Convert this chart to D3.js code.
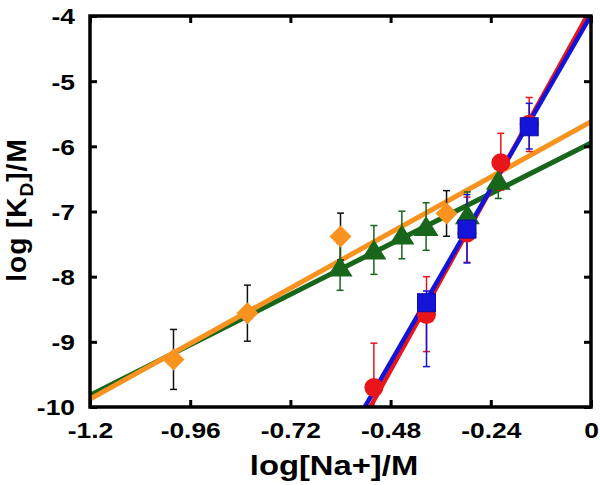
<!DOCTYPE html>
<html><head><meta charset="utf-8">
<script src="https://cdn.jsdelivr.net/npm/d3@7"></script>
<style>
body{margin:0;background:#fff}
svg text{font-family:"Liberation Sans",Arial,sans-serif;font-weight:bold;fill:#000}
</style>
</head><body>
<svg id="chart" width="600" height="485"></svg>
<script>
// ---- data ----
const xTicks = [-1.2, -0.96, -0.72, -0.48, -0.24, 0];
const xTickLabels = ["-1.2", "-0.96", "-0.72", "-0.48", "-0.24", "0"];
const yTicks = [-10, -9, -8, -7, -6, -5, -4];
const yTickLabels = ["-10", "-9", "-8", "-7", "-6", "-5", "-4"];

const orangeX = [-1.0, -0.823, -0.6, -0.346];
const orangeY = [-9.27, -8.56, -7.385, -7.03];
const orangeErrUp = [0.46, 0.43, 0.36, 0.35];
const orangeErrDown = [0.46, 0.43, 0.36, 0.35];

const greenX = [-0.601, -0.52, -0.453, -0.395, -0.296, -0.222];
const greenY = [-7.85, -7.59, -7.36, -7.23, -7.05, -6.52];
const greenErrUp = [0.36, 0.375, 0.365, 0.365, 0.35, 0.28];
const greenErrDown = [0.36, 0.375, 0.365, 0.365, 0.35, 0.28];

const redX = [-0.52, -0.394, -0.297, -0.216, -0.148];
const redY = [-9.70, -8.58, -7.33, -6.25, -5.66];
const redErrUp = [0.68, 0.58, 0.55, 0.45, 0.41];
const redErrDown = [0.68, 0.57, 0.45, 0.42, 0.42];

const blueX = [-0.394, -0.297, -0.148];
const blueY = [-8.40, -7.27, -5.70];
const blueErrUp = [0.18, 0.53, 0.36];
const blueErrDown = [0.98, 0.52, 0.34];

// linear fits: y = intercept + slope * x
const fitNames = ["green", "orange", "red", "blue"];
const fitSlopes = [3.225, 3.55, 11.56, 11.09];
const fitIntercepts = [-5.95, -5.62, -3.889, -3.99];

// ---- styles ----
const colors = {orange: "#f7931e", green: "#17661b", red: "#e8151b", blue: "#1414d8"};
const errColors = {orange: "#111", green: "#17661b", red: "#e8151b", blue: "#1414d8"};

const W = 600, H = 485;
const m = {left: 90, right: 9, top: 16, bottom: 78};
const svg = d3.select("#chart");
const x = d3.scaleLinear().domain([-1.2, 0]).range([m.left, W - m.right]);
const y = d3.scaleLinear().domain([-10, -4]).range([H - m.bottom, m.top]);
const SX = 1.2;

svg.append("defs").append("clipPath").attr("id", "clip")
  .append("rect").attr("x", m.left).attr("y", m.top)
  .attr("width", x(0) - x(-1.2)).attr("height", y(-10) - y(-4));

const plot = svg.append("g").attr("clip-path", "url(#clip)");

// fit lines
const lineWidths = [5, 5, 4.5, 4.5];
fitNames.forEach((n, i) => {
  const xs = x.domain();
  plot.append("line")
    .attr("x1", x(xs[0])).attr("y1", y(fitIntercepts[i] + fitSlopes[i] * xs[0]))
    .attr("x2", x(xs[1])).attr("y2", y(fitIntercepts[i] + fitSlopes[i] * xs[1]))
    .attr("stroke", colors[n]).attr("stroke-width", lineWidths[i]);
});

const series = [
  {name: "orange", xs: orangeX, ys: orangeY, up: orangeErrUp, dn: orangeErrDown, shape: "diamond"},
  {name: "green", xs: greenX, ys: greenY, up: greenErrUp, dn: greenErrDown, shape: "triangle"},
  {name: "red", xs: redX, ys: redY, up: redErrUp, dn: redErrDown, shape: "circle"},
  {name: "blue", xs: blueX, ys: blueY, up: blueErrUp, dn: blueErrDown, shape: "square"}
];

// error bars
series.forEach(s => {
  const g = plot.append("g").attr("stroke", errColors[s.name]).attr("stroke-width", 1.5);
  s.xs.forEach((xv, i) => {
    const px = x(xv), y1 = y(s.ys[i] + s.up[i]), y2 = y(s.ys[i] - s.dn[i]);
    g.append("line").attr("x1", px).attr("x2", px).attr("y1", y1).attr("y2", y2);
    g.append("line").attr("x1", px - 3.5).attr("x2", px + 3.5).attr("y1", y1).attr("y2", y1);
    g.append("line").attr("x1", px - 3.5).attr("x2", px + 3.5).attr("y1", y2).attr("y2", y2);
  });
});

// markers
series.forEach(s => {
  const g = plot.append("g").attr("fill", colors[s.name]);
  s.xs.forEach((xv, i) => {
    const px = x(xv), py = y(s.ys[i]);
    if (s.shape === "circle") {
      g.append("circle").attr("cx", px).attr("cy", py).attr("r", 9.5);
    } else if (s.shape === "square") {
      g.append("rect").attr("x", px - 9).attr("y", py - 9).attr("width", 18).attr("height", 18)
        .attr("stroke", "#0c0ca8").attr("stroke-width", 1);
    } else if (s.shape === "triangle") {
      g.append("path").attr("d", `M${px},${py - 10.5}L${px + 12.5},${py + 9.5}L${px - 12.5},${py + 9.5}Z`);
    } else {
      g.append("path").attr("d", `M${px},${py - 11}L${px + 11},${py}L${px},${py + 11}L${px - 11},${py}Z`);
    }
  });
});

// axes (box with inward ticks)
const tickLen = 7;
const axStyle = g => {
  g.select(".domain").remove();
  g.selectAll(".tick line").attr("stroke", "#000").attr("stroke-width", 3);
};
svg.append("g").attr("transform", `translate(0,${y(-10)})`)
  .call(d3.axisBottom(x).tickValues(xTicks).tickSizeInner(-tickLen).tickSizeOuter(0)
    .tickFormat((d, i) => xTickLabels[i]))
  .call(axStyle)
  .call(g => g.selectAll(".tick text").attr("font-size", 22).attr("y", 0).attr("dy", 0)
    .attr("transform", `translate(0,31) scale(${SX},1)`).attr("fill", "#000"));
svg.append("g").attr("transform", `translate(0,${y(-4)})`)
  .call(d3.axisTop(x).tickValues(xTicks).tickSizeInner(-tickLen).tickSizeOuter(0).tickFormat(""))
  .call(axStyle);
svg.append("g").attr("transform", `translate(${x(-1.2)},0)`)
  .call(d3.axisLeft(y).tickValues(yTicks).tickSizeInner(-tickLen).tickSizeOuter(0)
    .tickFormat((d, i) => yTickLabels[i]))
  .call(axStyle)
  .call(g => g.selectAll(".tick text").attr("font-size", 22).attr("x", 0).attr("dy", "0.36em")
    .attr("transform", `translate(-15,0) scale(${SX},1)`).attr("fill", "#000"));
svg.append("g").attr("transform", `translate(${x(0)},0)`)
  .call(d3.axisRight(y).tickValues(yTicks).tickSizeInner(-tickLen).tickSizeOuter(0).tickFormat(""))
  .call(axStyle);

// frame
svg.append("rect").attr("x", x(-1.2)).attr("y", y(-4))
  .attr("width", x(0) - x(-1.2)).attr("height", y(-10) - y(-4))
  .attr("fill", "none").attr("stroke", "#000").attr("stroke-width", 3.5);

// axis titles
svg.append("text").attr("text-anchor", "middle").attr("font-size", 28)
  .attr("transform", `translate(334,475) scale(1.17,1)`).text("log[Na+]/M");

const yl = svg.append("text").attr("text-anchor", "middle").attr("font-size", 28)
  .attr("letter-spacing", 1)
  .attr("transform", `translate(26,210) rotate(-90)`);
yl.append("tspan").text("log [K");
yl.append("tspan").attr("font-size", 19).attr("dy", 7).text("D");
yl.append("tspan").attr("dy", -7).text("]/M");
</script>
</body></html>
